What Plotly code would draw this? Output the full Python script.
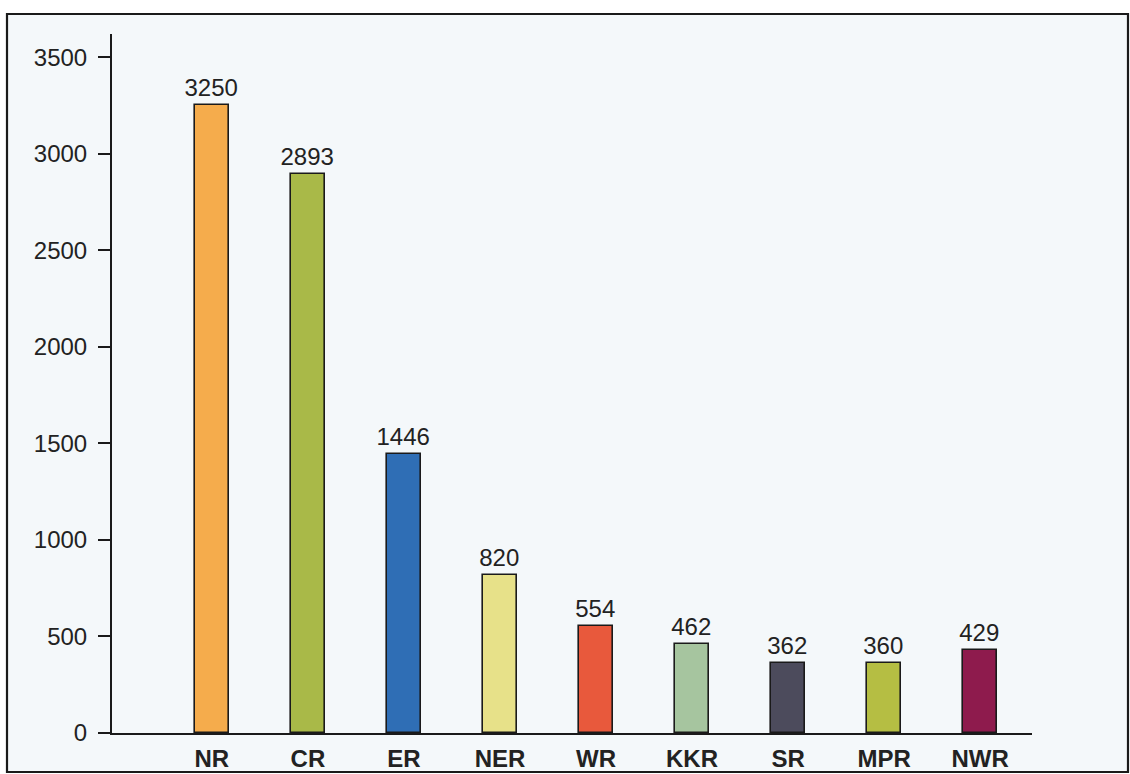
import plotly.graph_objects as go

# Railway zones and their values
zones = ["NR", "CR", "ER", "NER", "WR", "KKR", "SR", "MPR", "NWR"]
values = [3250, 2893, 1446, 820, 554, 462, 362, 360, 429]
colors = ["#F5AC4C", "#A9B948", "#2F6EB5", "#E7E189", "#E8593C",
          "#A6C59F", "#4C4B5C", "#B5BE43", "#8E1B4D"]
y_ticks = [0, 500, 1000, 1500, 2000, 2500, 3000, 3500]

FONT = "Liberation Sans, Arial, sans-serif"
W, H = 1130, 774
L, R, T, B = 112, 98, 34, 41
pw, ph = W - L - R, H - T - B

fig = go.Figure(
    go.Bar(
        x=list(range(len(zones))),
        y=values,
        width=0.354,
        marker=dict(color=colors, line=dict(color="#1a1a1a", width=1.6)),
        text=[str(v) for v in values],
        textposition="outside",
        constraintext="none",
        textfont=dict(family=FONT, size=24, color="#222"),
        cliponaxis=False,
        hoverinfo="skip",
    )
)

# outer frame around the whole chart
fig.add_shape(
    type="rect", xref="paper", yref="paper",
    x0=(7 - L) / pw, x1=(1128 - L) / pw,
    y0=(H - B - 772) / ph, y1=(H - B - 14) / ph,
    line=dict(color="#1a1a1a", width=2.2),
    fillcolor="#F4F8FA", layer="below",
)

fig.update_layout(
    width=W, height=H,
    margin=dict(l=L, r=R, t=T, b=B, autoexpand=False),
    paper_bgcolor="white",
    plot_bgcolor="rgba(0,0,0,0)",
    showlegend=False,
    bargap=0,
    uniformtext=dict(mode=False),
    xaxis=dict(
        range=[-1.04, 8.54],
        tickmode="array",
        tickvals=list(range(len(zones))),
        ticktext=zones,
        tickfont=dict(family=FONT, size=24, color="#222", weight="bold"),
        showgrid=False, zeroline=False,
        showline=True, linecolor="#1a1a1a", linewidth=2,
        ticks="", ticklabelstandoff=3,
        automargin=False,
        fixedrange=True,
    ),
    yaxis=dict(
        range=[0, 3620],
        tickmode="array",
        tickvals=y_ticks,
        tickfont=dict(family=FONT, size=24, color="#222"),
        showgrid=False, zeroline=False,
        showline=True, linecolor="#1a1a1a", linewidth=2,
        ticks="outside", ticklen=12, tickwidth=2, tickcolor="#1a1a1a",
        ticklabelstandoff=6,
        automargin=False,
        fixedrange=True,
    ),
)

fig.write_html("out.html")
